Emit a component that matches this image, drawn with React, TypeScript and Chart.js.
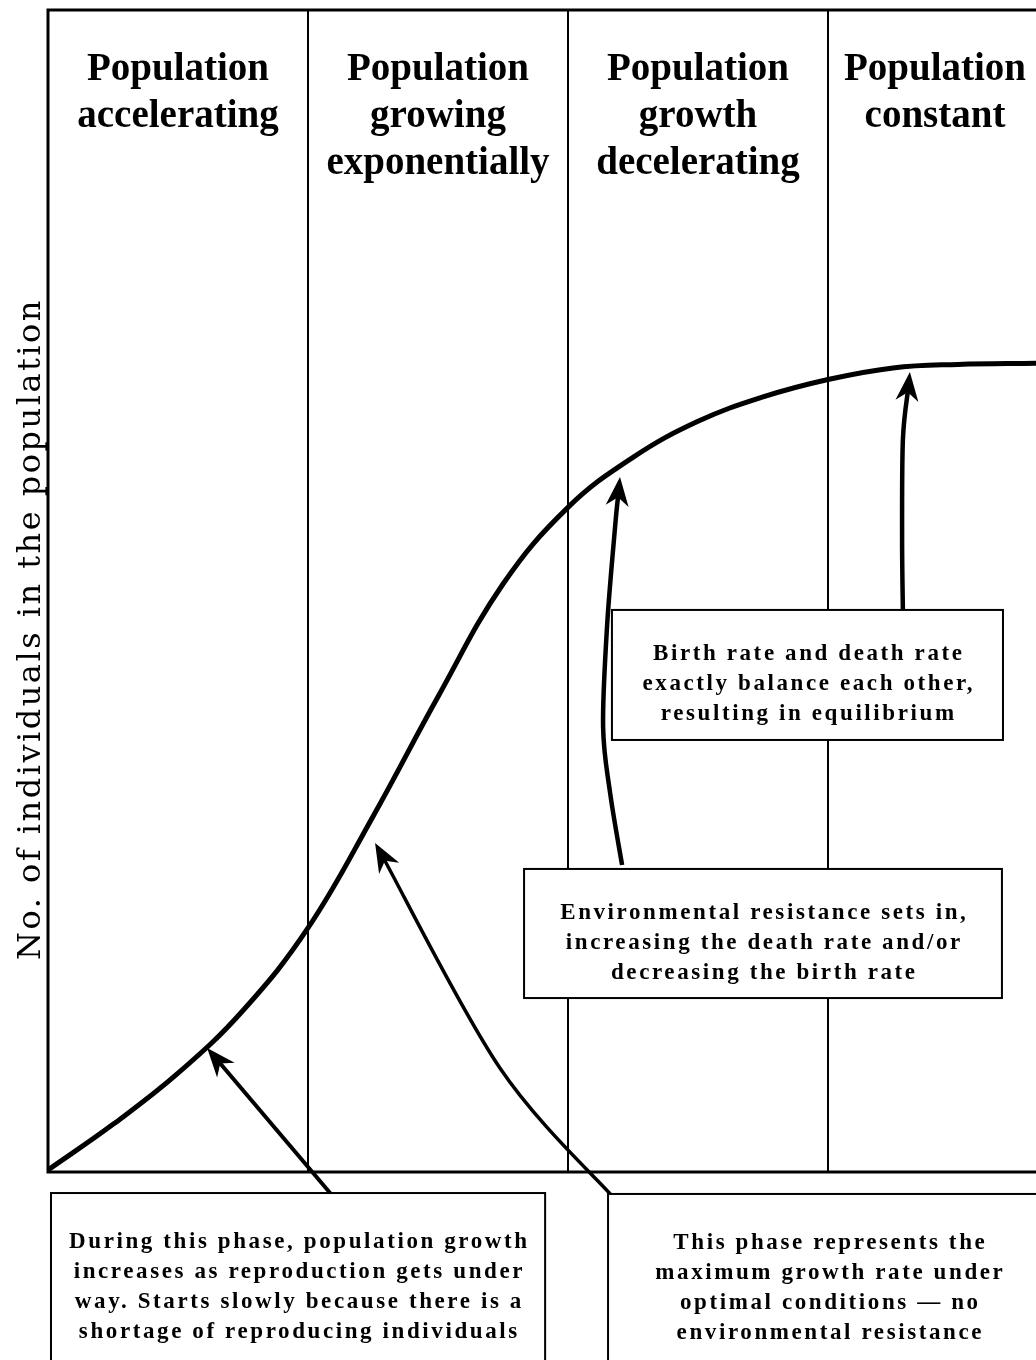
import React, { useEffect, useRef } from "react";
import { Chart, registerables } from "chart.js";

Chart.register(...registerables);

// ---- data ----
const phaseBounds = [0, 1, 2, 3, 3.8];
const phaseHeaders = [
  ["Population", "accelerating"],
  ["Population", "growing", "exponentially"],
  ["Population", "growth", "decelerating"],
  ["Population", "constant"],
];
const timeValues = [0, 0.25, 0.5, 0.75, 1.0, 1.25, 1.5, 1.75, 2.0, 2.25, 2.5, 2.75, 3.0, 3.25, 3.5, 3.8];
const populationValues = [0.17, 4.1, 8.5, 13.9, 21.0, 30.6, 40.9, 50.6, 57.2, 61.5, 64.6, 66.7, 68.2, 69.2, 69.5, 69.6];
const yTitle = "No. of individuals in the population";

const noteA = ["During this phase, population growth", "increases as reproduction gets under", "way. Starts slowly because there is a", "shortage of reproducing individuals"];
const noteB = ["This phase represents the", "maximum growth rate under", "optimal conditions \u2014 no", "environmental resistance"];
const noteC = ["Birth rate and death rate", "exactly balance each other,", "resulting in equilibrium"];
const noteD = ["Environmental resistance sets in,", "increasing the death rate and/or", "decreasing the birth rate"];

// annotation layout (in data units of the chart's scales)
const noteBoxes = [
  { x0: 0.0115, x1: 1.912, y0: -17.9, y1: -1.81, lines: noteA, first: 55 },
  { x0: 2.154, x1: 3.854, y0: -17.9, y1: -1.89, lines: noteB, first: 55 },
  { x0: 2.169, x1: 3.673, y0: 37.18, y1: 48.37, lines: noteC, first: 50 },
  { x0: 1.831, x1: 3.669, y0: 14.97, y1: 26.08, lines: noteD, first: 50 },
];
const arrowPaths = [
  { w: 4, pts: [[1.085, -1.81], [0.612, 10.67]] },
  { w: 3.5, pts: [[2.173, -2.15], [1.738, 8.95], [1.258, 28.31]] },
  { w: 4.5, pts: [[2.208, 26.42], [2.162, 32.62], [2.135, 38.3], [2.15, 46.9], [2.181, 55.5], [2.2, 59.8]] },
  { w: 4.5, pts: [[3.288, 48.37], [3.285, 54.4], [3.288, 63.0], [3.315, 68.85]] },
];

type P = { x: number; y: number };

function smoothPath(ctx: CanvasRenderingContext2D, pts: P[]) {
  ctx.moveTo(pts[0].x, pts[0].y);
  if (pts.length === 2) {
    ctx.lineTo(pts[1].x, pts[1].y);
    return;
  }
  for (let i = 0; i < pts.length - 1; i++) {
    const p0 = pts[i - 1] || pts[i];
    const p1 = pts[i];
    const p2 = pts[i + 1];
    const p3 = pts[i + 2] || p2;
    ctx.bezierCurveTo(
      p1.x + (p2.x - p0.x) / 6,
      p1.y + (p2.y - p0.y) / 6,
      p2.x - (p3.x - p1.x) / 6,
      p2.y - (p3.y - p1.y) / 6,
      p2.x,
      p2.y
    );
  }
}

const decorPlugin = {
  id: "decor",
  beforeDatasetsDraw(chart: any) {
    const { ctx, chartArea, scales } = chart;
    const xs = scales.x;
    ctx.save();
    ctx.strokeStyle = "#000";
    // phase dividers
    ctx.lineWidth = 2;
    phaseBounds.slice(1, -1).forEach((b) => {
      const px = Math.round(xs.getPixelForValue(b));
      ctx.beginPath();
      ctx.moveTo(px, chartArea.top);
      ctx.lineTo(px, chartArea.bottom);
      ctx.stroke();
    });
    // frame
    ctx.lineWidth = 3;
    ctx.beginPath();
    ctx.moveTo(chartArea.right, chartArea.top);
    ctx.lineTo(chartArea.left, chartArea.top);
    ctx.lineTo(chartArea.left, chartArea.bottom);
    ctx.lineTo(chartArea.right, chartArea.bottom);
    ctx.stroke();

    // headers
    ctx.fillStyle = "#000";
    ctx.font = "bold 39px 'Liberation Serif'";
    ctx.textAlign = "center";
    ctx.textBaseline = "alphabetic";
    phaseHeaders.forEach((lines, i) => {
      const cx = xs.getPixelForValue((phaseBounds[i] + phaseBounds[i + 1]) / 2) + (i === 3 ? 3 : 0);
      lines.forEach((t, j) => {
        ctx.fillText(t, cx, chartArea.top + 70 + j * 47);
      });
    });

    // y title
    ctx.save();
    ctx.translate(chartArea.left - 8, (chartArea.top + chartArea.bottom) / 2 + 38);
    ctx.rotate(-Math.PI / 2);
    ctx.font = "32px 'DejaVu Serif'";
    (ctx as any).letterSpacing = "2.5px";
    ctx.fillText(yTitle, 0, 0);
    ctx.restore();
    ctx.restore();
  },
  afterDatasetsDraw(chart: any) {
    const { ctx, scales } = chart;
    const xs = scales.x;
    const ys = scales.y;
    const toPx = (p: number[]): P => ({ x: xs.getPixelForValue(p[0]), y: ys.getPixelForValue(p[1]) });
    ctx.save();
    ctx.strokeStyle = "#000";
    ctx.fillStyle = "#000";
    // arrows
    arrowPaths.forEach((a) => {
      const pts = a.pts.map(toPx);
      const n = pts.length;
      const tip = pts[n - 1];
      const prev = pts[n - 2];
      let dx = tip.x - prev.x;
      let dy = tip.y - prev.y;
      const len = Math.hypot(dx, dy);
      dx /= len;
      dy /= len;
      const L = 29;
      const W = 23;
      const shaft = pts.slice();
      shaft[n - 1] = { x: tip.x - dx * L * 0.6, y: tip.y - dy * L * 0.6 };
      ctx.lineWidth = a.w;
      ctx.lineCap = "butt";
      ctx.beginPath();
      smoothPath(ctx, shaft);
      ctx.stroke();
      const nx = -dy;
      const ny = dx;
      ctx.beginPath();
      ctx.moveTo(tip.x, tip.y);
      ctx.lineTo(tip.x - dx * L + nx * W / 2, tip.y - dy * L + ny * W / 2);
      ctx.lineTo(tip.x - dx * L * 0.7, tip.y - dy * L * 0.7);
      ctx.lineTo(tip.x - dx * L - nx * W / 2, tip.y - dy * L - ny * W / 2);
      ctx.closePath();
      ctx.fill();
    });
    // boxes
    noteBoxes.forEach((b) => {
      const l = xs.getPixelForValue(b.x0);
      const r = xs.getPixelForValue(b.x1);
      const t = ys.getPixelForValue(b.y1);
      const bt = ys.getPixelForValue(b.y0);
      ctx.fillStyle = "#fff";
      ctx.fillRect(l, t, r - l, bt - t);
      ctx.lineWidth = 2;
      ctx.strokeRect(l, t, r - l, bt - t);
      ctx.fillStyle = "#000";
      ctx.font = "bold 23px 'Liberation Serif'";
      (ctx as any).letterSpacing = "2.6px";
      ctx.textAlign = "center";
      ctx.textBaseline = "alphabetic";
      const cx = (l + r) / 2 + 1.3;
      b.lines.forEach((s, j) => ctx.fillText(s, cx, t + b.first + j * 30));
      (ctx as any).letterSpacing = "0px";
    });
    ctx.restore();
  },
};

export default function App() {
  const ref = useRef<HTMLCanvasElement>(null);
  useEffect(() => {
    const chart = new Chart(ref.current as HTMLCanvasElement, {
      type: "line",
      data: {
        datasets: [
          {
            label: "Population",
            data: timeValues.map((t, i) => ({ x: t, y: populationValues[i] })),
            borderColor: "#000",
            borderWidth: 5,
            pointRadius: 0,
            tension: 0.4,
            fill: false,
            clip: false as any,
          },
        ],
      },
      options: {
        animation: false,
        responsive: false,
        devicePixelRatio: 1,
        layout: { padding: { left: 48, top: 10, right: 0, bottom: 188 } },
        plugins: { legend: { display: false }, tooltip: { enabled: false }, title: { display: false } },
        scales: {
          x: { type: "linear", min: 0, max: 3.8, display: false },
          y: { type: "linear", min: 0, max: 100, display: false },
        },
      },
      plugins: [decorPlugin],
    } as any);
    return () => chart.destroy();
  }, []);
  return (
    <div style={{ position: "absolute", left: 0, top: 0, width: 1036, height: 1360, background: "#fff" }}>
      <canvas ref={ref} width={1036} height={1360} style={{ display: "block", width: 1036, height: 1360 }} />
    </div>
  );
}
